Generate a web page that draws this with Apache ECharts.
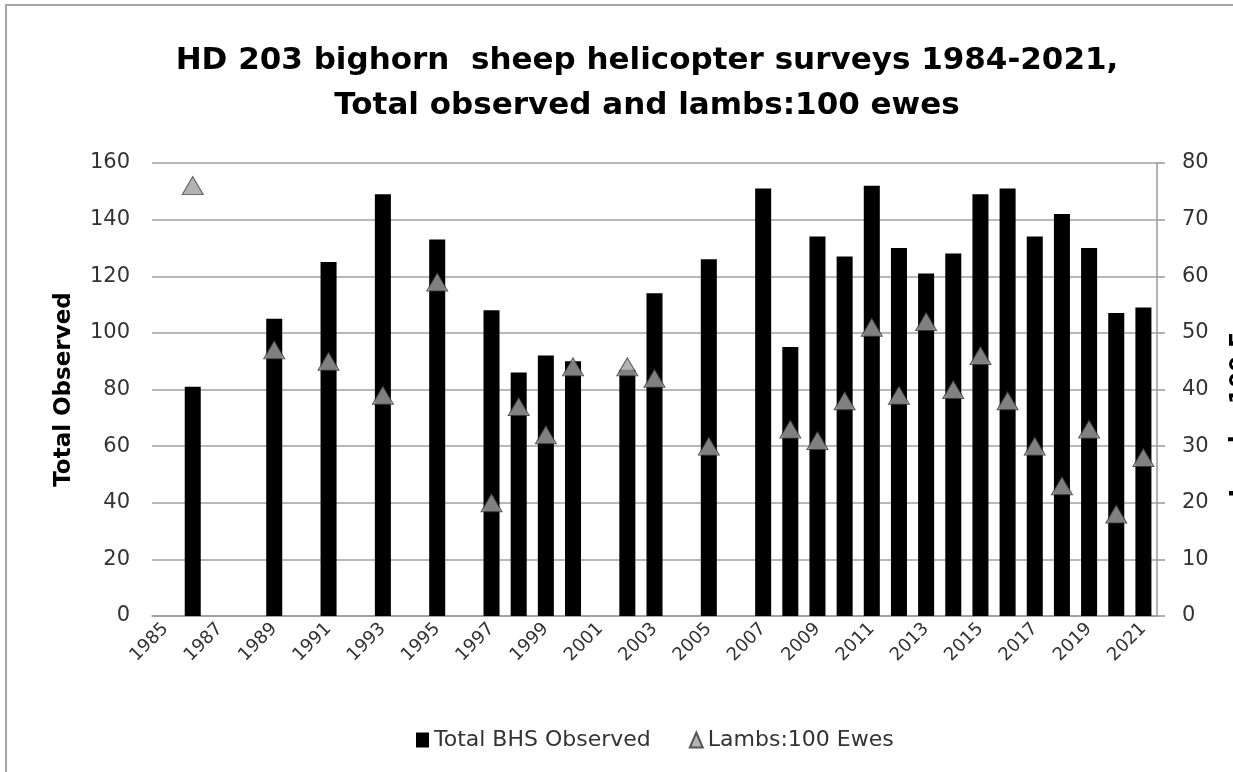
<!DOCTYPE html>
<html>
<head>
<meta charset="utf-8">
<title>HD 203 bighorn sheep</title>
<script src="https://cdn.jsdelivr.net/npm/echarts@6/dist/echarts.min.js"></script>
<style>
    html, body { margin: 0; padding: 0; background: #fff; overflow: hidden; }
    #frame { position: absolute; left: 5px; top: 4px; width: 2000px; height: 2000px; border: 2px solid #a6a6a6; }
    #sheep { position: absolute; left: 0; top: 0; width: 1233px; height: 772px; }
</style>
</head>
<body>
<div id="frame"></div>
<div id="sheep"></div>
<script>
// years on the category axis (labels shown every 2nd year)
var years = [];
for (var y = 1985; y <= 2021; y++) years.push(String(y));

// total bighorn sheep observed, one per year, null = no survey
var totalBHS = [
    null, 81, null, null, 105, null, 125, null, 149, null,   // 1985-1994
    133, null, 108, 86, 92, 90, null, 87, 114, null,         // 1995-2004
    126, null, 151, 95, 134, 127, 152, 130, 121, 128,        // 2005-2014
    149, 151, 134, 142, 130, 107, 109                        // 2015-2021
];

// lambs per 100 ewes
var lambs = [
    null, 76, null, null, 47, null, 45, null, 39, null,
    59, null, 20, 37, 32, 44, null, 44, 42, null,
    30, null, null, 33, 31, 38, 51, 39, 52, 40,
    46, 38, 30, 23, 33, 18, 28
];

var leftTicks = { min: 0, max: 160, interval: 20 };
var rightTicks = { min: 0, max: 80, interval: 10 };

var chart = echarts.init(document.getElementById('sheep'));

var option = {
    backgroundColor: 'transparent',
    animation: false,
    title: {
        text: 'HD 203 bighorn  sheep helicopter surveys 1984-2021,\nTotal observed and lambs:100 ewes',
        left: 642,
        textAlign: 'center',
        top: 33,
        textStyle: {
            fontFamily: 'DejaVu Sans',
            fontSize: 31,
            fontWeight: 'bold',
            color: '#000',
            lineHeight: 45
        }
    },
    legend: {
        top: 724,
        left: 411,
        itemGap: 38,
        textStyle: { fontFamily: 'DejaVu Sans', fontSize: 22, color: '#333' },
        data: [
            { name: 'Total BHS Observed', icon: 'rect', itemStyle: { color: '#000' } },
            { name: 'Lambs:100 Ewes', icon: 'triangle' }
        ],
        itemWidth: 13,
        itemHeight: 15
    },
    grid: {
        left: 152,
        right: 76,
        top: 163,
        bottom: 156,
        outerBoundsMode: 'none'
    },
    xAxis: {
        type: 'category',
        data: years,
        axisLine: { lineStyle: { color: '#999', width: 1.5 } },
        axisTick: { show: false },
        axisLabel: {
            interval: 1,
            rotate: 45,
            fontFamily: 'DejaVu Sans',
            fontSize: 18,
            color: '#333',
            margin: 10
        }
    },
    yAxis: [
        {
            type: 'value',
            min: leftTicks.min,
            max: leftTicks.max,
            interval: leftTicks.interval,
            name: 'Total Observed',
            nameLocation: 'middle',
            nameRotate: 90,
            nameGap: 76,
            nameTextStyle: { fontFamily: 'DejaVu Sans', fontSize: 23, fontWeight: 'bold', color: '#000' },
            axisLine: { show: false },
            axisTick: { show: false },
            axisLabel: { fontFamily: 'DejaVu Sans', fontSize: 21, color: '#333', margin: 22 },
            splitLine: { lineStyle: { color: '#a0a0a0', width: 1.5 } }
        },
        {
            type: 'value',
            position: 'right',
            min: rightTicks.min,
            max: rightTicks.max,
            interval: rightTicks.interval,
            name: 'Lambs:100 Ewes',
            nameLocation: 'middle',
            nameRotate: 90,
            nameGap: 72,
            nameTextStyle: { fontFamily: 'DejaVu Sans', fontSize: 23, fontWeight: 'bold', color: '#000' },
            axisLine: { show: true, lineStyle: { color: '#999', width: 1.5 } },
            axisTick: { show: true, length: 8, lineStyle: { color: '#999', width: 1.5 } },
            axisLabel: { fontFamily: 'DejaVu Sans', fontSize: 21, color: '#333', margin: 25 },
            splitLine: { show: false }
        }
    ],
    series: [
        {
            name: 'Total BHS Observed',
            type: 'bar',
            yAxisIndex: 0,
            barWidth: '59%',
            itemStyle: { color: '#000' },
            data: totalBHS
        },
        {
            name: 'Lambs:100 Ewes',
            type: 'scatter',
            yAxisIndex: 1,
            symbol: 'triangle',
            symbolSize: [21, 18],
            itemStyle: { color: '#a0a0a0', borderColor: '#333', borderWidth: 1 },
            data: lambs
        }
    ]
};

chart.setOption(option);
</script>
</body>
</html>
